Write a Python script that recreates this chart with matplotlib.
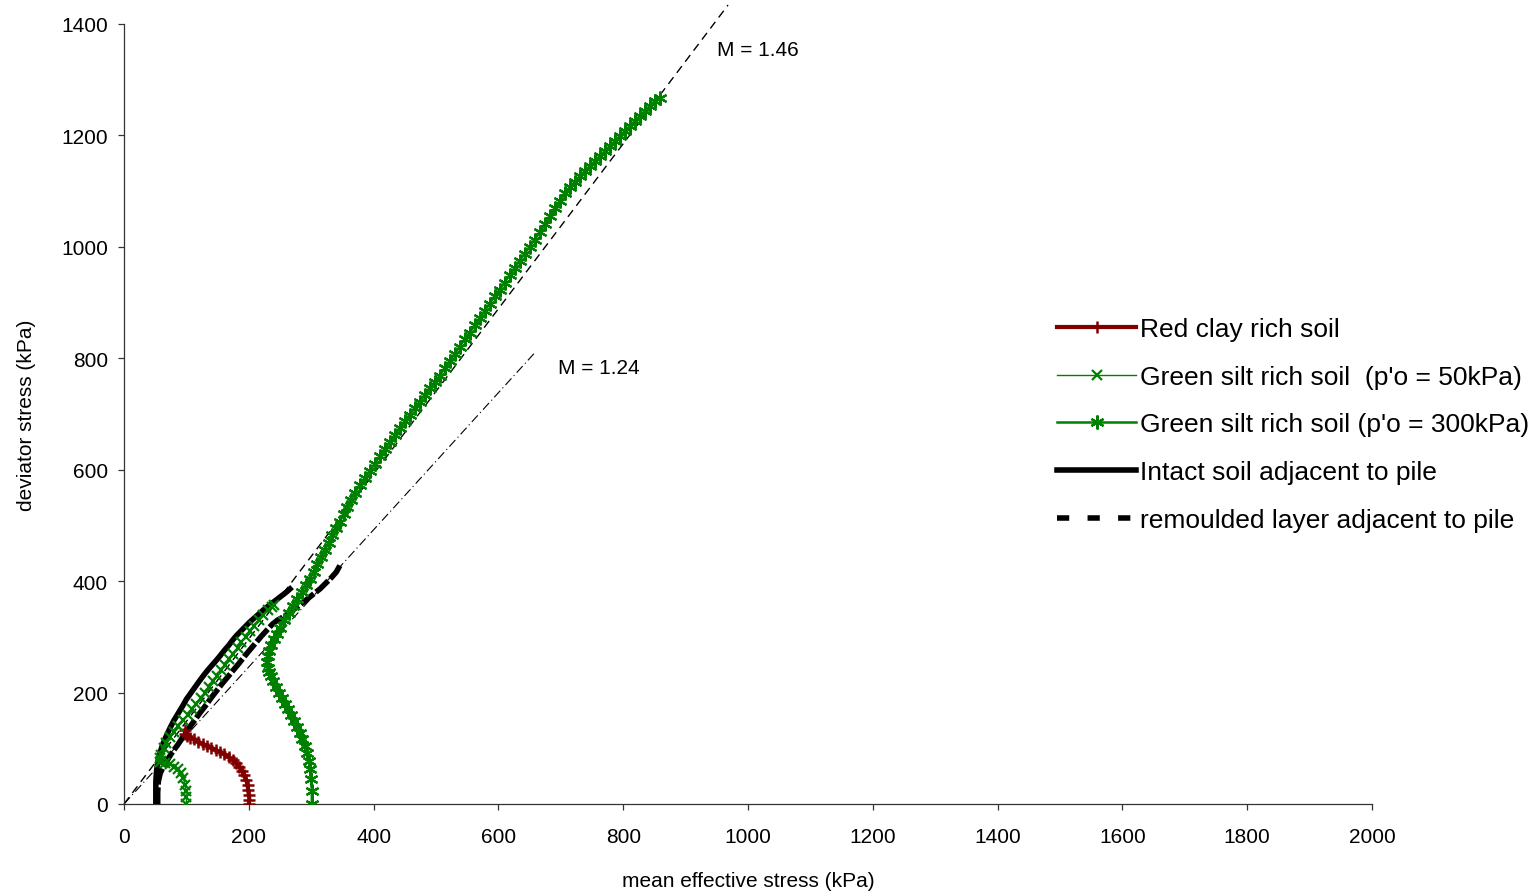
import matplotlib
matplotlib.use("Agg")
import matplotlib.pyplot as plt
from matplotlib.lines import Line2D

plt.rcParams.update({"font.family": "Liberation Sans"})

# --- data (p' in kPa, q in kPa) ---
red_p = [200, 201, 200, 199, 198, 196, 193, 189, 185, 180, 174, 168, 161, 154,
         147, 140, 133, 126, 119, 112, 106, 101, 98, 97]
red_q = [0, 8, 16, 25, 34, 43, 52, 60, 67, 73, 79, 84, 89, 93,
         97, 101, 105, 108, 112, 116, 119, 122, 126, 132]

g50_p = [100, 100, 99, 98, 95, 91, 86, 80, 73, 66, 60, 57, 58, 60, 64, 68, 74,
         80, 87, 95, 102, 109, 116, 123, 130, 136, 143, 149, 156, 162, 169,
         175, 182, 188, 195, 202, 209, 216, 223, 230, 237, 241]
g50_q = [0, 12, 24, 35, 46, 55, 62, 67, 71, 74, 78, 75, 82, 88, 100, 110, 120,
         130, 140, 150, 160, 170, 180, 190, 200, 210, 220, 230, 240, 250, 260,
         270, 280, 290, 300, 310, 320, 330, 340, 348, 354, 357]

g300_p = [301, 301, 300, 298, 296, 293, 290, 286, 282, 278, 273, 268, 263, 258,
          253, 248, 243, 239, 235, 232, 230, 229, 230, 232, 236, 240, 245, 250,
          257, 264, 271, 278, 285, 292, 298, 304, 310, 316, 322, 328, 334, 340,
          346, 352, 358, 364, 370, 378, 386, 394, 402, 410, 418, 426, 434, 442,
          450, 458, 466, 474, 482, 490, 498, 506, 514, 522, 530, 538, 546, 554,
          562, 570, 578, 586, 594, 602, 610, 618, 626, 634, 642, 650, 658, 667,
          675, 683, 691, 699, 707, 715, 723, 731, 739, 747, 755, 763, 771, 779,
          787, 795, 803, 811, 819, 827, 835, 843, 851, 859]
g300_q = [0, 24, 45, 62, 77, 91, 104, 116, 127, 138, 149, 160, 170, 180,
          190, 200, 210, 220, 229, 237, 245, 255, 265, 275, 286, 296, 306, 316,
          330, 343, 356, 368, 381, 393, 404, 417, 430, 443, 456, 469, 482, 495,
          507, 520, 533, 546, 559, 572, 585, 598, 611, 624, 637, 650, 662, 675,
          687, 699, 711, 722, 734, 746, 757, 769, 782, 795, 808, 821, 834, 846,
          859, 872, 885, 898, 911, 923, 936, 949, 962, 975, 988, 1000, 1013, 1027,
          1041, 1055, 1069, 1083, 1096, 1107, 1117, 1127, 1136, 1145, 1154, 1163,
          1172, 1181, 1190, 1199, 1208, 1217, 1226, 1235, 1244, 1253, 1262, 1268]

intact_p = [51, 51, 51, 52, 54, 58, 62, 67, 74, 80, 87, 94, 100, 107, 114, 121,
            127, 134, 141, 148, 154, 161, 168, 174, 180, 187, 194, 201, 207, 215,
            223, 231, 239, 246, 253, 261, 266]
intact_q = [0, 20, 40, 57, 75, 93, 107, 120, 137, 150, 163, 176, 188, 199, 210,
            221, 230, 240, 249, 258, 266, 276, 285, 294, 302, 310, 318, 326, 332,
            340, 348, 355, 362, 368, 374, 381, 386]

remould_p = [54, 54, 55, 58, 63, 70, 78, 86, 95, 104, 113, 122, 131, 140, 149,
             158, 167, 175, 184, 193, 202, 211, 220, 229, 238, 246, 254, 262, 270,
             278, 287, 296, 305, 314, 323, 332, 340, 346]
remould_q = [0, 20, 40, 55, 67, 80, 94, 106, 121, 136, 150, 164, 177, 191, 204,
             217, 229, 240, 252, 265, 277, 289, 301, 312, 323, 330, 335, 341, 348,
             354, 362, 370, 378, 386, 396, 406, 416, 428]

# critical state lines
m146_p = [0, 968]
m146_q = [0, 1434]
m124_p = [0, 660]
m124_q = [0, 812]

RED = "#800000"
GREEN = "#008000"

fig = plt.figure(figsize=(15.36, 8.95), dpi=100)
ax = fig.add_axes([124 / 1536, 90 / 895, 1248 / 1536, 780 / 895])

ax.plot(m146_p, m146_q, color="black", lw=1.0, ls=(0, (6, 4)), clip_on=False, zorder=2)
ax.plot(m124_p, m124_q, color="black", lw=0.8, ls=(0, (8, 3, 1, 3)), zorder=2)

h_int, = ax.plot(intact_p, intact_q, color="black", lw=4, zorder=3)
ax.plot(remould_p, remould_q, color="black", lw=4, ls=(0, (3, 0.5)), zorder=3)

h_red, = ax.plot(red_p, red_q, color=RED, lw=3, marker="+", ms=9, mew=1.8, zorder=4)
h_g50, = ax.plot(g50_p, g50_q, color=GREEN, lw=1.0, marker="x", ms=7, mew=1.6, zorder=5)
h_g300, = ax.plot(g300_p, g300_q, color=GREEN, lw=1.8, marker=(6, 2, 0), ms=10,
                  mew=1.6, zorder=5)

h_rem = Line2D([], [], color="black", lw=4, ls=(0, (2.2, 3.3)))

ax.text(950, 1355, "M = 1.46", fontsize=15, ha="left", va="center")
ax.text(695, 783, "M = 1.24", fontsize=15, ha="left", va="center")

ax.set_xlim(0, 2000)
ax.set_ylim(0, 1400)
ax.set_xticks(range(0, 2001, 200))
ax.set_yticks(range(0, 1401, 200))
ax.spines["top"].set_visible(False)
ax.spines["right"].set_visible(False)
for s in ("left", "bottom"):
    ax.spines[s].set_linewidth(0.9)
    ax.spines[s].set_color("#333333")
ax.tick_params(axis="both", direction="out", length=4.5, width=0.9,
               color="#333333", labelsize=15)
ax.tick_params(axis="x", pad=12)
ax.tick_params(axis="y", pad=7)
ax.set_xlabel("mean effective stress (kPa)", fontsize=15, labelpad=18)
ax.set_ylabel("deviator stress (kPa)", fontsize=15, labelpad=18)

fig.legend([h_red, h_g50, h_g300, h_int, h_rem],
           ["Red clay rich soil", "Green silt rich soil  (p'o = 50kPa)",
            "Green silt rich soil (p'o = 300kPa)", "Intact soil adjacent to pile",
            "remoulded layer adjacent to pile"],
           loc="upper left", bbox_to_anchor=(1057 / 1536, 1 - 318 / 895),
           frameon=False, fontsize=19, handlelength=3.0, handletextpad=0.16,
           labelspacing=0.9, borderpad=0, borderaxespad=0)

fig.savefig("out.png", dpi=100)
